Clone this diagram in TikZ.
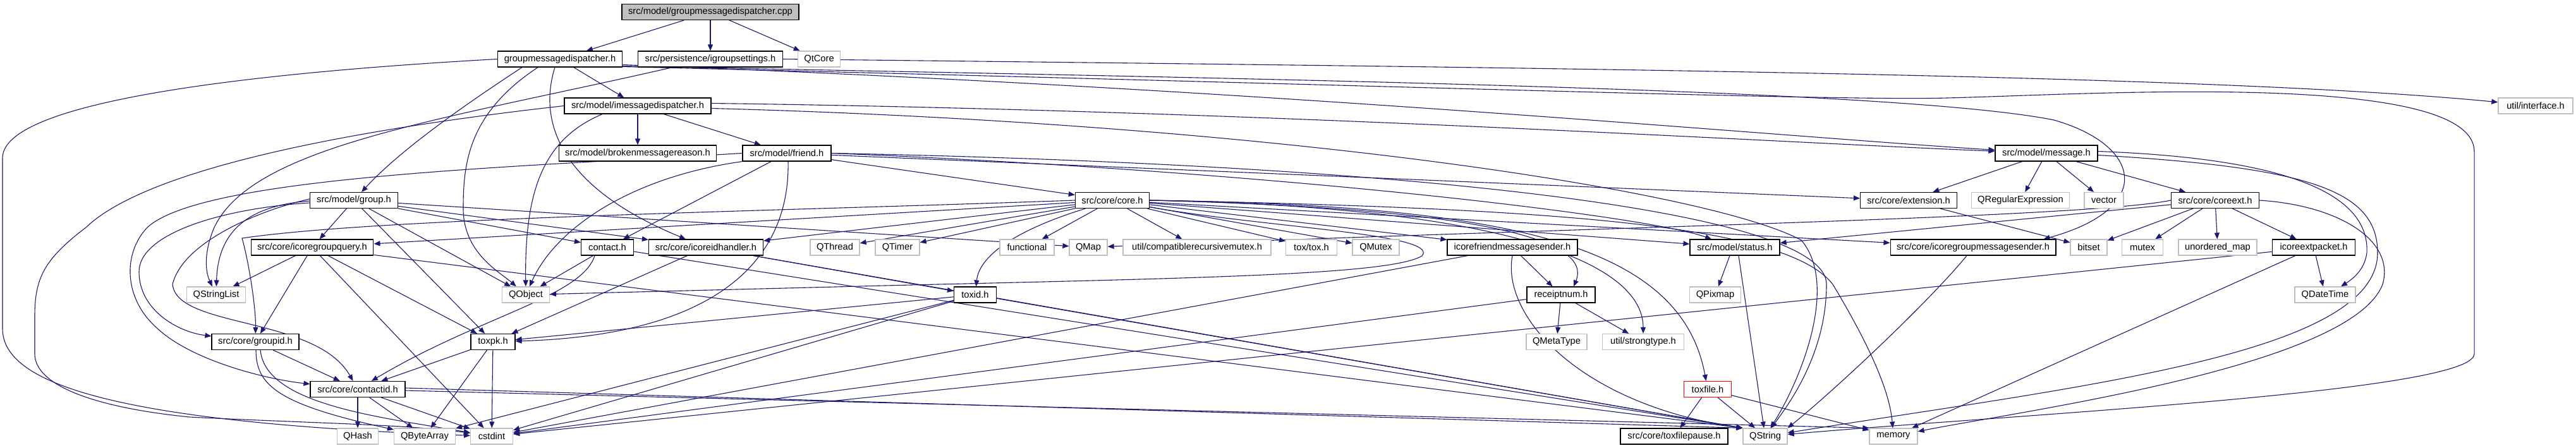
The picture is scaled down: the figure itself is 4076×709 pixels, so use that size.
\documentclass[tikz,border=0pt]{standalone}
\usepackage{fontspec}
\setmainfont{Liberation Sans}
\usetikzlibrary{arrows.meta}
\pgfdeclarelayer{bg}
\pgfsetlayers{bg,main}
\definecolor{edgeblue}{HTML}{191970}
\definecolor{extgray}{HTML}{BFBFBF}
\definecolor{rootgray}{HTML}{BFBFBF}
\begin{document}
\begin{tikzpicture}[x=1pt,y=-1pt,
 box/.style={rectangle, minimum height=25pt, inner xsep=10pt, inner ysep=0pt, font=\fontsize{14.7pt}{17pt}\selectfont, fill=white, line width=1.2pt},
 doc/.style={box, draw=black},
 ext/.style={box, draw=extgray},
 trunc/.style={box, draw=red},
 e/.style={draw=edgeblue, line width=1.1pt, -{Triangle[length=10pt,width=8pt]}}]
\useasboundingbox (0,0) rectangle (4076,709);
% row 1
\node[doc, fill=rootgray, minimum width=280pt] (cpp) at (1124,19) {src/model/groupmessagedispatcher.cpp};
% row 2
\node[doc, minimum width=197pt] (gmd) at (886,93.5) {groupmessagedispatcher.h};
\node[doc, minimum width=229pt] (igs) at (1124,93.5) {src/persistence/igroupsettings.h};
\node[ext, minimum width=66pt] (qtcore) at (1296,93.5) {QtCore};
% row 3
\node[doc, minimum width=232pt] (imd) at (1009,167.5) {src/model/imessagedispatcher.h};
\node[ext, minimum width=118pt] (iface) at (4012,167.5) {util/interface.h};
% row 4
\node[doc, minimum width=249pt] (broken) at (1009,242.5) {src/model/brokenmessagereason.h};
\node[doc, minimum width=140pt] (friend) at (1245,242.5) {src/model/friend.h};
\node[doc, minimum width=162pt] (message) at (3238,242.5) {src/model/message.h};
% row 5
\node[doc, minimum width=139pt] (group) at (560,317) {src/model/group.h};
\node[doc, minimum width=117pt] (core) at (1760,317) {src/core/core.h};
\node[doc, minimum width=153pt] (extension) at (3020,317) {src/core/extension.h};
\node[ext, minimum width=154pt] (qregexp) at (3197,317) {QRegularExpression};
\node[ext, minimum width=62pt] (vector) at (3329,317) {vector};
\node[doc, minimum width=139pt] (coreext) at (3505,317) {src/core/coreext.h};
% row 6
\node[doc, minimum width=193pt] (icgq) at (494,391.5) {src/core/icoregroupquery.h};
\node[doc, minimum width=83pt] (contact) at (961,391.5) {contact.h};
\node[doc, minimum width=181pt] (icidh) at (1117,391.5) {src/core/icoreidhandler.h};
\node[ext, minimum width=78pt] (qthread) at (1321,391.5) {QThread};
\node[ext, minimum width=70pt] (qtimer) at (1420,391.5) {QTimer};
\node[ext, minimum width=86pt] (functional) at (1625,391.5) {functional};
\node[ext, minimum width=59pt] (qmap) at (1722,391.5) {QMap};
\node[ext, minimum width=234pt] (crmutex) at (1894,391.5) {util/compatiblerecursivemutex.h};
\node[ext, minimum width=81pt] (toxh) at (2075,391.5) {tox/tox.h};
\node[ext, minimum width=74pt] (qmutex) at (2177,391.5) {QMutex};
\node[doc, minimum width=206pt] (icfms) at (2393,391.5) {icorefriendmessagesender.h};
\node[doc, minimum width=142pt] (status) at (2745,391.5) {src/model/status.h};
\node[doc, minimum width=259pt] (icgms) at (3122,391.5) {src/core/icoregroupmessagesender.h};
\node[ext, minimum width=58pt] (bitset) at (3305,391.5) {bitset};
\node[ext, minimum width=65pt] (mutex) at (3390,391.5) {mutex};
\node[ext, minimum width=124pt] (umap) at (3509,391.5) {unordered\_map};
\node[doc, minimum width=131pt] (icep) at (3661,391.5) {icoreextpacket.h};
% row 7
\node[ext, minimum width=93pt] (qstringlist) at (342,466.5) {QStringList};
\node[ext, minimum width=75pt] (qobject) at (832,466.5) {QObject};
\node[doc, minimum width=67pt] (toxid) at (1543,466.5) {toxid.h};
\node[doc, minimum width=108pt] (receiptnum) at (2470,466.5) {receiptnum.h};
\node[ext, minimum width=81pt] (qpixmap) at (2714,466.5) {QPixmap};
\node[ext, minimum width=96pt] (qdatetime) at (3679,466.5) {QDateTime};
% row 8
\node[doc, minimum width=138pt] (groupid) at (404,541) {src/core/groupid.h};
\node[doc, minimum width=70pt] (toxpk) at (780,541) {toxpk.h};
\node[ext, minimum width=95pt] (qmetatype) at (2463,541) {QMetaType};
\node[ext, minimum width=129pt] (strongtype) at (2600,541) {util/strongtype.h};
% row 9
\node[doc, minimum width=150pt] (contactid) at (566,616) {src/core/contactid.h};
\node[trunc, minimum width=75pt] (toxfile) at (2702,616) {toxfile.h};
% row 10
\node[ext, minimum width=65pt] (qhash) at (566,690.5) {QHash};
\node[ext, minimum width=97pt] (qbytearray) at (672,690.5) {QByteArray};
\node[ext, minimum width=67pt] (cstdint) at (778,690.5) {cstdint};
\node[doc, minimum width=170pt] (toxfilepause) at (2649,690.5) {src/core/toxfilepause.h};
\node[ext, minimum width=70pt] (qstring) at (2793,690.5) {QString};
\node[ext, minimum width=76pt] (memory) at (2996,690.5) {memory};

\begin{pgfonlayer}{bg}
% cpp
\draw[e] (cpp) -- (gmd);
\draw[e] (cpp) -- (igs);
\draw[e] (cpp) -- (qtcore);
% groupmessagedispatcher.h
\draw[e] (gmd) -- (imd);
\draw[e] ([xshift=-60pt]gmd.south) .. controls (760,150) and (640,230) .. (group);
\draw[e] ([xshift=-35pt]gmd.south) .. controls (740,180) and (733,260) .. (733,330) .. controls (733,400) and (790,430) .. (qobject);
\draw[e] ([xshift=-8pt]gmd.south) .. controls (855,180) and (870,290) .. (icidh);
\draw[e] ([yshift=-9pt]gmd.east) .. controls (2000,140) and (2800,215) .. (message);
\draw[e] ([yshift=-11pt]gmd.east) .. controls (2000,125) and (3000,140) .. (3250,190) .. controls (3390,230) and (3410,330) .. ([xshift=-20pt]icgms.north east);
\draw[e] ([yshift=-12pt]gmd.east) .. controls (2200,135) and (2900,160) .. (3081,155) .. controls (3300,150) and (3915,110) .. (3915,240) -- (3915,560) .. controls (3915,620) and (3200,655) .. (qstring);
\draw[e] (gmd.west) .. controls (400,115) and (4,160) .. (4,250) -- (4,520) .. controls (4,600) and (150,668) .. (cstdint);
% igroupsettings.h
\draw[e] ([xshift=-60pt]igs.south) .. controls (700,190) and (400,230) .. (339,360) .. controls (322,400) and (325,430) .. (qstringlist);
\draw[e] (igs.east) .. controls (2500,108) and (3500,118) .. (iface);
% imessagedispatcher.h
\draw[e] (imd) -- (broken);
\draw[e] (imd) -- (friend);
\draw[e] ([yshift=4pt]imd.east) .. controls (2000,175) and (2800,225) .. (message);
\draw[e] ([xshift=-56pt]imd.south) .. controls (860,220) and (830,300) .. (qobject);
\draw[e] ([yshift=-4pt]imd.east) .. controls (2000,195) and (2700,300) .. (2850,380) .. controls (2910,450) and (2850,600) .. (qstring);
\draw[e] (imd.west) .. controls (600,200) and (240,260) .. (136,360) .. controls (70,410) and (55,440) .. (55,500) -- (55,560) .. controls (55,610) and (150,645) .. (300,660) .. controls (500,670) and (650,672) .. (cstdint);
% friend.h
\draw[e] (friend) -- (contact);
\draw[e] (friend) -- (core);
\draw[e] (friend) -- (extension);
\draw[e] ([xshift=2pt]friend.south) .. controls (1250,400) and (1150,530) .. (toxpk);
\draw[e] (friend.east) .. controls (2000,270) and (2600,340) .. (status);
\draw[e] (friend.south west) .. controls (1000,280) and (880,360) .. (qobject);
\draw[e] (friend.east) .. controls (2200,260) and (2890,330) .. (2890,450) .. controls (2890,560) and (2830,640) .. (qstring);
\draw[e] (friend.west) .. controls (800,265) and (320,280) .. (233,360) .. controls (195,400) and (195,470) .. (246,517) .. controls (300,570) and (420,600) .. (contactid);
% group.h
\draw[e] (group) -- (contact);
\draw[e] ([yshift=2pt]group.west) .. controls (420,330) and (290,380) .. (273,450) .. controls (280,520) and (500,500) .. (contactid);
\draw[e] ([yshift=-4pt]group.west) .. controls (350,330) and (220,370) .. (220,430) .. controls (220,490) and (280,525) .. (groupid);
\draw[e] (group) -- (icgq);
\draw[e] (group) -- (icidh);
\draw[e] (group) -- (toxpk);
\draw[e] (group) -- (qmap);
\draw[e] (group) -- (qobject);
\draw[e] ([yshift=-1pt]group.west) .. controls (400,325) and (345,360) .. (qstringlist);
% core.h
\draw[e] (core.west) .. controls (1200,335) and (600,345) .. (383,377) .. controls (395,420) and (405,490) .. (groupid);
\draw[e] (core) -- (icfms);
\draw[e] (core) -- (icgms);
\draw[e] (core) -- (icgq);
\draw[e] (core) -- (icidh);
\draw[e] (core.east) .. controls (2350,330) and (2520,380) .. ([xshift=20pt]receiptnum.north);
\draw[e] (core.east) .. controls (2400,325) and (2660,390) .. (toxfile);
\draw[e] (core) .. controls (1620,360) and (1550,400) .. (toxid);
\draw[e] (core.east) .. controls (2400,328) and (2600,420) .. (strongtype);
\draw[e] (core) -- (crmutex);
\draw[e] (core) -- (status);
\draw[e] (core) -- (toxh);
\draw[e] (core) -- (qmutex);
\draw[e] (core) .. controls (2000,360) and (2280,370) .. (2250,405) .. controls (2200,435) and (1900,440) .. (1400,452) -- (qobject);
\draw[e] (core) -- (qthread);
\draw[e] (core) -- (qtimer);
\draw[e] (core) -- (functional);
\draw[e] (core.east) .. controls (2500,330) and (2830,360) .. (2900,450) .. controls (2960,550) and (2990,620) .. (memory);
% message.h
\draw[e] (message) -- (extension);
\draw[e] (message) -- (qregexp);
\draw[e] (message) -- (vector);
\draw[e] (message) -- (coreext);
\draw[e] ([yshift=3pt]message.east) .. controls (3600,250) and (3750,300) .. (3745,400) .. controls (3742,425) and (3725,440) .. ([xshift=25pt]qdatetime.north);
\draw[e] ([yshift=-3pt]message.east) .. controls (3650,265) and (3762,300) .. (3762,400) .. controls (3762,560) and (3300,610) .. (qstring);
% extension.h
\draw[e] (extension) -- (bitset);
% coreext.h
\draw[e] (coreext) -- (status);
\draw[e] (coreext) -- (bitset);
\draw[e] (coreext) -- (mutex);
\draw[e] (coreext) -- (umap);
\draw[e] (coreext) -- (icep);
\draw[e] (coreext.west) .. controls (3300,345) and (2500,360) .. (qmap);
\draw[e] (coreext.east) .. controls (3700,325) and (3790,380) .. (3770,450) .. controls (3720,580) and (3200,650) .. (memory);
% icoregroupquery.h
\draw[e] (icgq) -- (groupid);
\draw[e] (icgq) -- (qstringlist);
\draw[e] (icgq) -- (toxpk);
\draw[e] (icgq) -- (qstring.north west);
\draw[e] (icgq) -- (cstdint);
% contact.h
\draw[e] ([xshift=-20pt]contact.south) .. controls (920,470) and (760,500) .. (contactid);
\draw[e] (contact) -- (qobject);
\draw[e] (contact) -- (qstring.north west);
% icoreidhandler.h
\draw[e] (icidh) -- (toxid);
\draw[e] (icidh) -- (toxpk);
\draw[e] (icidh) -- (qstring.north west);
% icorefriendmessagesender.h
\draw[e] (icfms) -- (receiptnum);
\draw[e] (icfms.south) .. controls (2375,500) and (2500,640) .. (qstring.north west);
\draw[e] (icfms) -- (cstdint);
% receiptnum.h
\draw[e] (receiptnum) -- (qmetatype);
\draw[e] (receiptnum) -- (strongtype);
\draw[e] (receiptnum) -- (cstdint);
% status.h
\draw[e] ([xshift=-8pt]status.south) -- (qpixmap);
\draw[e] ([xshift=6pt]status.south) -- (qstring);
% icoregroupmessagesender.h
\draw[e] ([xshift=-10pt]icgms.south) .. controls (3050,480) and (2900,620) .. (qstring.north east);
% icoreextpacket.h
\draw[e] (icep) -- (qdatetime);
\draw[e] (icep) -- (cstdint);
\draw[e] (icep) -- (memory);
% toxfile.h
\draw[e] (toxfile) -- (toxfilepause);
\draw[e] (toxfile) -- (qstring);
\draw[e] (toxfile) -- (memory);
% toxid.h
\draw[e] (toxid) -- (toxpk);
\draw[e] (toxid) -- (qbytearray);
\draw[e] (toxid) -- (cstdint);
\draw[e] (toxid) -- (qstring.north west);
% toxpk.h
\draw[e] (toxpk) -- (contactid);
\draw[e] (toxpk) -- (qbytearray);
\draw[e] (toxpk) -- (cstdint);
% groupid.h
\draw[e] (groupid) -- (contactid);
\draw[e] ([xshift=1pt]groupid.south) .. controls (405,610) and (440,640) .. (qbytearray);
\draw[e] ([xshift=8pt]groupid.south) .. controls (420,640) and (600,660) .. (cstdint);
% contactid.h
\draw[e] (contactid) -- (qhash);
\draw[e] (contactid) -- (qbytearray);
\draw[e] (contactid) -- (cstdint);
\draw[e] ([yshift=2pt]contactid.east) -- (qstring.north west);
\draw[e] ([yshift=-2pt]contactid.east) -- (memory.north west);
\end{pgfonlayer}
\end{tikzpicture}
\end{document}
